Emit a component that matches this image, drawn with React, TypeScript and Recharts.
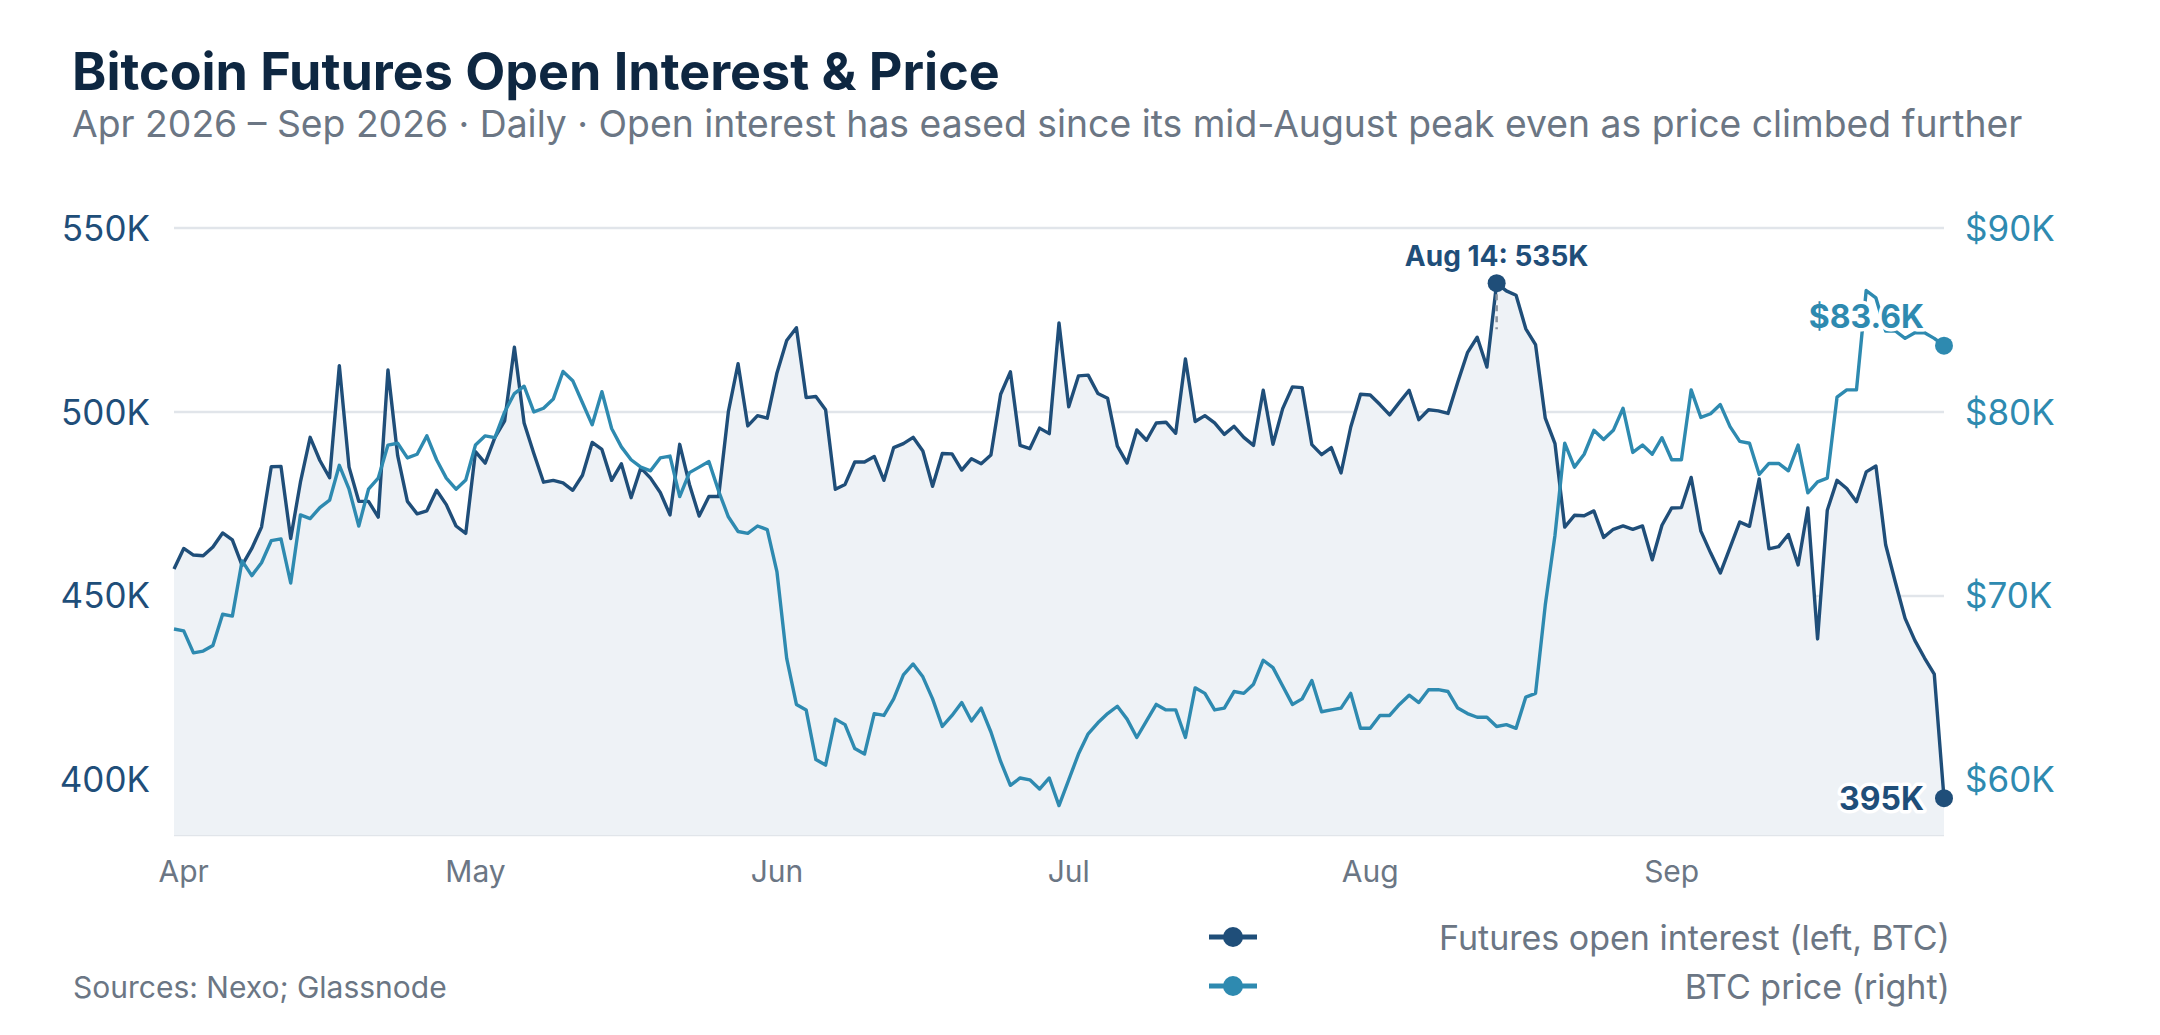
import React from "react";
import {
  ComposedChart,
  Area,
  Line,
  XAxis,
  YAxis,
  CartesianGrid,
  Legend,
} from "recharts";

// daily series, Mar 31 2026 -> Sep 29 2026
const startDate = { year: 2026, month: 2, day: 31 };

// futures open interest, thousands of BTC
const openInterest = [
  457.3, 462.9, 461.1, 460.9, 463.3, 467.1, 465.2, 458.3, 462.9, 468.7,
  485.1, 485.2, 465.6, 480.9, 493.1, 486.8, 482.1, 512.6, 485.0, 475.7,
  475.7, 471.4, 511.4, 488.1, 475.7, 472.3, 473.1, 478.7, 474.8, 469.0,
  467.0, 489.2, 486.1, 493.1, 497.6, 517.6, 497.0, 488.7, 480.9, 481.4,
  480.7, 478.7, 482.8, 491.7, 489.8, 481.4, 485.9, 476.7, 484.8, 482.0,
  478.1, 472.0, 491.2, 480.3, 471.7, 477.0, 477.0, 500.0, 513.1, 496.2,
  499.0, 498.3, 510.6, 519.4, 522.9, 503.9, 504.2, 500.6, 479.0, 480.3,
  486.4, 486.4, 487.9, 481.4, 490.3, 491.4, 493.1, 489.4, 479.8, 488.7,
  488.6, 484.2, 487.3, 485.9, 488.3, 504.8, 510.9, 490.9, 490.0, 495.6,
  494.1, 524.2, 501.4, 509.8, 510.0, 505.0, 503.7, 490.7, 486.1, 495.1,
  492.3, 497.0, 497.2, 494.2, 514.4, 497.4, 499.0, 497.0, 493.9, 496.1,
  493.1, 490.9, 505.9, 491.2, 500.9, 506.8, 506.6, 491.1, 488.4, 490.3,
  483.4, 495.9, 504.8, 504.6, 502.0, 499.2, 502.6, 505.9, 497.9, 500.6,
  500.3, 499.6, 508.1, 516.1, 520.3, 512.2, 535.0, 532.9, 531.7, 522.6,
  518.3, 498.3, 491.4, 468.7, 471.9, 471.8, 473.1, 465.9, 468.1, 469.0,
  468.1, 469.0, 459.8, 469.2, 473.9, 474.0, 482.2, 467.6, 461.7, 456.2,
  463.1, 470.1, 468.9, 481.8, 462.8, 463.4, 466.7, 458.4, 473.9, 438.3,
  473.3, 481.4, 479.2, 475.6, 483.7, 485.3, 463.9, 453.7, 443.9, 437.9,
  433.1, 428.7, 395.0,
];

// BTC price, thousands of USD
const btcPrice = [
  68.2, 68.1, 66.9, 67.0, 67.3, 69.0, 68.9, 71.9, 71.1, 71.8,
  73.0, 73.1, 70.7, 74.4, 74.2, 74.8, 75.2, 77.1, 75.8, 73.8,
  75.8, 76.4, 78.2, 78.3, 77.5, 77.7, 78.7, 77.4, 76.4, 75.8,
  76.3, 78.2, 78.7, 78.6, 80.0, 81.0, 81.4, 80.0, 80.2, 80.7,
  82.2, 81.7, 80.5, 79.3, 81.1, 79.1, 78.1, 77.4, 77.0, 76.8,
  77.5, 77.6, 75.4, 76.7, 77.0, 77.3, 75.7, 74.3, 73.5, 73.4,
  73.8, 73.6, 71.3, 66.6, 64.1, 63.8, 61.1, 60.8, 63.3, 63.0,
  61.7, 61.4, 63.6, 63.5, 64.4, 65.7, 66.3, 65.6, 64.4, 62.9,
  63.5, 64.2, 63.2, 63.9, 62.6, 61.0, 59.7, 60.1, 60.0, 59.5,
  60.1, 58.6, 60.0, 61.4, 62.5, 63.1, 63.6, 64.0, 63.3, 62.3,
  63.2, 64.1, 63.8, 63.8, 62.3, 65.0, 64.7, 63.8, 63.9, 64.8,
  64.7, 65.2, 66.5, 66.1, 65.1, 64.1, 64.4, 65.4, 63.7, 63.8,
  63.9, 64.7, 62.8, 62.8, 63.5, 63.5, 64.1, 64.6, 64.2, 64.9,
  64.9, 64.8, 63.9, 63.6, 63.4, 63.4, 62.9, 63.0, 62.8, 64.5,
  64.7, 69.5, 73.3, 78.3, 77.0, 77.7, 79.0, 78.5, 79.0, 80.2,
  77.8, 78.2, 77.7, 78.6, 77.4, 77.4, 81.2, 79.7, 79.9, 80.4,
  79.2, 78.4, 78.3, 76.6, 77.2, 77.2, 76.8, 78.2, 75.6, 76.2,
  76.4, 80.8, 81.2, 81.2, 86.6, 86.2, 84.4, 84.4, 84.0, 84.3,
  84.3, 84.0, 83.6,
];

const monthNames = ["Jan", "Feb", "Mar", "Apr", "May", "Jun", "Jul", "Aug", "Sep", "Oct", "Nov", "Dec"];
const monthTicks = ["2026-04-01", "2026-05-01", "2026-06-01", "2026-07-01", "2026-08-01", "2026-09-01"];
const leftTicks = [400, 450, 500, 550];
const rightTicks = [60, 70, 80, 90];

const DARK = "#1f4e79";
const TEAL = "#2e8ab0";
const GRAY = "#6b7684";
const FONT = "Inter, 'Liberation Sans', sans-serif";

const PLOT_LEFT = 174;
const PLOT_RIGHT = 1944;
const PLOT_BOTTOM = 835;

function dayKey(i: number) {
  const d = new Date(Date.UTC(startDate.year, startDate.month, startDate.day + i));
  return d.toISOString().slice(0, 10);
}

function shortDate(key: string) {
  const [, m, d] = key.split("-");
  return `${monthNames[Number(m) - 1]} ${Number(d)}`;
}

const data = openInterest.map((oi, i) => ({
  date: dayKey(i),
  oi,
  price: btcPrice[i],
}));

const peakIdx = openInterest.indexOf(Math.max(...openInterest));
const lastIdx = openInterest.length - 1;

const halo = { stroke: "#ffffff", strokeWidth: 7, paintOrder: "stroke" as const, strokeLinejoin: "round" as const };

function OiDot(props: any) {
  const { cx, cy, index } = props;
  if (index === peakIdx) {
    return (
      <g key="oi-peak">
        <line x1={cx} x2={cx} y1={cy} y2={cy + 46} stroke="#8a939e" strokeWidth={2.5} strokeDasharray="6 5" />
        <circle cx={cx} cy={cy} r={9} fill={DARK} />
        <text x={cx} y={cy - 17} textAnchor="middle" fontFamily={FONT} fontSize={28} fontWeight={700} fill={DARK} {...halo}>
          {`${shortDate(data[index].date)}: ${Math.round(openInterest[index])}K`}
        </text>
      </g>
    );
  }
  if (index === lastIdx) {
    return (
      <g key="oi-last">
        <circle cx={cx} cy={cy} r={9} fill={DARK} />
        <text x={cx - 20} y={cy} dy="0.36em" textAnchor="end" fontFamily={FONT} fontSize={32} fontWeight={700} fill={DARK} {...halo}>
          {`${Math.round(openInterest[index])}K`}
        </text>
      </g>
    );
  }
  return <g key={`oi-${index}`} />;
}

function PriceDot(props: any) {
  const { cx, cy, index } = props;
  if (index === lastIdx) {
    return (
      <g key="px-last">
        <circle cx={cx} cy={cy} r={9} fill={TEAL} />
        <text x={cx - 20} y={cy - 18} textAnchor="end" fontFamily={FONT} fontSize={32} fontWeight={700} fill={TEAL} {...halo}>
          {`$${btcPrice[index].toFixed(1)}K`}
        </text>
      </g>
    );
  }
  return <g key={`px-${index}`} />;
}

const legendItems = [
  { label: "Futures open interest (left, BTC)", color: DARK },
  { label: "BTC price (right)", color: TEAL },
];

function LegendBox() {
  return (
    <div style={{ position: "relative", width: 750, height: 110, fontFamily: FONT }}>
      {legendItems.map((item, i) => (
        <div
          key={item.label}
          style={{ position: "absolute", left: 0, right: 0, top: 2 + i * 49, height: 40, display: "flex", alignItems: "center" }}
        >
          <svg width={48} height={24} style={{ marginLeft: 9 }}>
            <line x1={0} x2={48} y1={12} y2={12} stroke={item.color} strokeWidth={5} />
            <circle cx={24} cy={12} r={10} fill={item.color} />
          </svg>
          <span style={{ marginLeft: "auto", fontSize: 34, color: GRAY, whiteSpace: "nowrap" }}>{item.label}</span>
        </div>
      ))}
    </div>
  );
}

export default function App() {
  return (
    <div style={{ position: "absolute", left: 0, top: 0, width: 2160, height: 1035, background: "#fff", fontFamily: FONT }}>
      <div style={{ position: "absolute", left: 72, top: 46, fontSize: 52, lineHeight: "52px", fontWeight: 700, color: "#0e2741", whiteSpace: "nowrap" }}>
        Bitcoin Futures Open Interest &amp; Price
      </div>
      <div style={{ position: "absolute", left: 72, top: 105, fontSize: 37.3, lineHeight: "37px", color: GRAY, whiteSpace: "nowrap" }}>
        Apr 2026 – Sep 2026 · Daily · Open interest has eased since its mid-August peak even as price climbed further
      </div>
      <ComposedChart
        width={2160}
        height={1035}
        data={data}
        margin={{ top: 228, right: 0, bottom: 140, left: 0 }}
      >
        <CartesianGrid yAxisId="oi" horizontal vertical={false} stroke="#e1e5ea" strokeWidth={2.5} />
        <XAxis
          dataKey="date"
          ticks={monthTicks}
          interval={0}
          axisLine={false}
          tickLine={false}
          height={60}
          tick={(p: any) => (
            <text x={p.x} y={PLOT_BOTTOM + 47} textAnchor="middle" fontFamily={FONT} fontSize={30} fill={GRAY}>
              {monthNames[Number(String(p.payload.value).slice(5, 7)) - 1]}
            </text>
          )}
        />
        <YAxis
          yAxisId="oi"
          width={PLOT_LEFT}
          domain={[385, 550]}
          ticks={leftTicks}
          axisLine={false}
          tickLine={false}
          tick={(p: any) => (
            <text x={PLOT_LEFT - 24} y={p.y} dy="0.36em" textAnchor="end" fontFamily={FONT} fontSize={35} fill={DARK}>
              {`${p.payload.value}K`}
            </text>
          )}
        />
        <YAxis
          yAxisId="px"
          orientation="right"
          width={2160 - PLOT_RIGHT}
          domain={[57, 90]}
          ticks={rightTicks}
          axisLine={false}
          tickLine={false}
          tick={(p: any) => (
            <text x={PLOT_RIGHT + 21} y={p.y} dy="0.36em" textAnchor="start" fontFamily={FONT} fontSize={35} fill={TEAL}>
              {`$${p.payload.value}K`}
            </text>
          )}
        />
        <Area
          yAxisId="oi"
          type="linear"
          dataKey="oi"
          stroke={DARK}
          strokeWidth={3.4}
          strokeLinejoin="round"
          fill="#eef2f6"
          fillOpacity={1}
          dot={OiDot}
          activeDot={false}
          isAnimationActive={false}
        />
        <Line
          yAxisId="px"
          type="linear"
          dataKey="price"
          stroke={TEAL}
          strokeWidth={3.4}
          strokeLinejoin="round"
          dot={PriceDot}
          activeDot={false}
          isAnimationActive={false}
        />
        <Legend
          layout="horizontal"
          verticalAlign="middle"
          align="center"
          content={() => <LegendBox />}
          wrapperStyle={{ position: "absolute", left: 1200, top: 915, width: 750, height: 110 }}
        />
      </ComposedChart>
      <div style={{ position: "absolute", left: 73, top: 972, fontSize: 30, lineHeight: "30px", color: GRAY, whiteSpace: "nowrap" }}>
        Sources: Nexo; Glassnode
      </div>
    </div>
  );
}
